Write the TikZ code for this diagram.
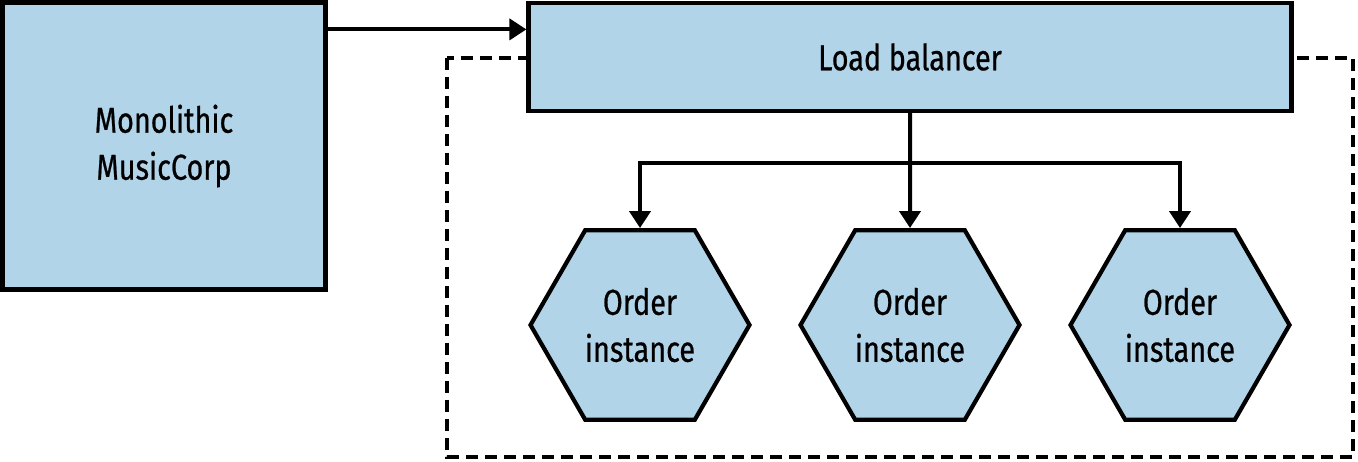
\documentclass[tikz,border=0pt]{standalone}
\usepackage{fontspec}
\setmainfont[FakeStretch=0.8,FakeBold=0.6]{Fira Sans}
\usetikzlibrary{arrows.meta,shapes.geometric}
\definecolor{boxblue}{HTML}{B1D4E9}
\definecolor{boxink}{HTML}{000000}

\tikzset{
  block/.style={draw=boxink,fill=boxblue,line width=4.2pt,align=center,
    font=\fontsize{36}{47}\selectfont},
  orderhex/.style={block,regular polygon,regular polygon sides=6,
    minimum size=219pt,inner sep=0pt},
  link/.style={draw=boxink,line width=4pt,
    -{Triangle[length=17pt,width=21pt]}},
}

\begin{document}
\begin{tikzpicture}[x=1pt,y=1pt]
    \path[use as bounding box] (0,0) rectangle (1358,462);

    % Deployment boundary round the balanced instances.
    \draw[boxink,line width=3.8pt,dash pattern=on 12pt off 7pt]
      (447,404) rectangle (1353,5);

    \node[block,minimum width=323pt,minimum height=287pt] (mono)
      at (164,316) {Monolithic\\MusicCorp};
    \node[block,minimum width=763pt,minimum height=108pt] (lb)
      at (910,405) {Load balancer};

    \node[orderhex] (ord1) at (640,137) {Order\\instance};
    \node[orderhex] (ord2) at (910,137) {Order\\instance};
    \node[orderhex] (ord3) at (1180,137) {Order\\instance};

    % Requests from the monolith, then fanned out to the instances.
    \coordinate (req) at ([yshift=-29pt]mono.north east);
    \draw[link] (req) -- (req -| lb.west);
    \coordinate (fork) at (lb.south |- 0,299);
    \draw[link] (lb.south) -- (ord2.north);
    \draw[link] (fork) -| (ord1.north);
    \draw[link] (fork) -| (ord3.north);
\end{tikzpicture}
\end{document}
